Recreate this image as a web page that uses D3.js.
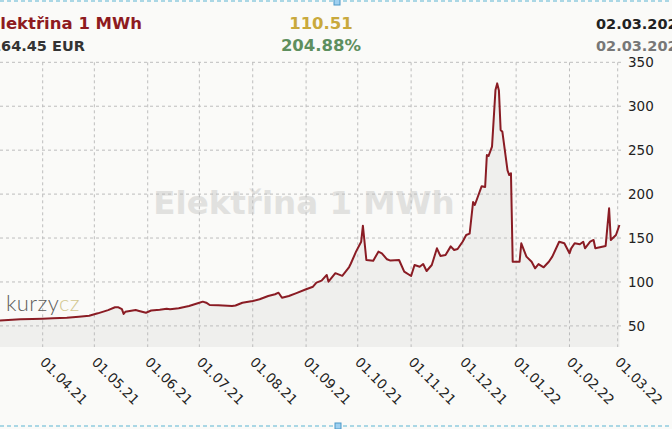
<!DOCTYPE html>
<html>
<head>
<meta charset="utf-8">
<script src="https://cdn.jsdelivr.net/npm/d3@7"></script>
<style>
  html, body { margin: 0; padding: 0; background: #fafaf8; }
  svg { display: block; font-family: 'DejaVu Sans', Verdana, sans-serif; }
</style>
</head>
<body>
<div id="chart"></div>
<script>
// Denni ceny (EUR / MWh)
const dates = [
    '2021-03-06', '2021-03-19', '2021-03-26', '2021-04-01', '2021-04-07', '2021-04-15', '2021-04-22', '2021-04-28',
    '2021-05-03', '2021-05-09', '2021-05-13', '2021-05-15', '2021-05-17', '2021-05-18', '2021-05-19', '2021-05-25',
    '2021-05-27', '2021-05-31', '2021-06-03', '2021-06-08', '2021-06-12', '2021-06-14', '2021-06-19', '2021-06-25',
    '2021-07-01', '2021-07-03', '2021-07-05', '2021-07-07', '2021-07-12', '2021-07-20', '2021-07-22', '2021-07-26',
    '2021-08-01', '2021-08-05', '2021-08-10', '2021-08-14', '2021-08-16', '2021-08-18', '2021-08-22', '2021-08-26',
    '2021-09-01', '2021-09-05', '2021-09-07', '2021-09-10', '2021-09-13', '2021-09-14', '2021-09-18', '2021-09-22',
    '2021-09-26', '2021-09-27', '2021-09-30', '2021-10-03', '2021-10-04', '2021-10-06', '2021-10-10', '2021-10-13',
    '2021-10-15', '2021-10-18', '2021-10-20', '2021-10-25', '2021-10-28', '2021-11-01', '2021-11-03', '2021-11-06',
    '2021-11-08', '2021-11-10', '2021-11-13', '2021-11-16', '2021-11-18', '2021-11-21', '2021-11-24', '2021-11-26',
    '2021-11-28', '2021-12-01', '2021-12-03', '2021-12-05', '2021-12-07', '2021-12-08', '2021-12-12', '2021-12-14',
    '2021-12-15', '2021-12-16', '2021-12-18', '2021-12-20', '2021-12-21', '2021-12-22', '2021-12-23', '2021-12-24',
    '2021-12-27', '2021-12-28', '2021-12-29', '2021-12-30', '2022-01-03', '2022-01-04', '2022-01-07', '2022-01-10',
    '2022-01-12', '2022-01-14', '2022-01-17', '2022-01-20', '2022-01-22', '2022-01-26', '2022-01-29', '2022-02-01',
    '2022-02-02', '2022-02-04', '2022-02-07', '2022-02-09', '2022-02-10', '2022-02-13', '2022-02-15', '2022-02-16',
    '2022-02-22', '2022-02-24', '2022-02-25', '2022-02-28', '2022-03-02'
];
const values = [
    56.0, 57.5, 57.9, 58.2, 58.6, 59.3, 60.5, 61.6,
    64.3, 68.0, 71.2, 71.2, 69.0, 63.6, 66.0, 68.0,
    67.0, 65.0, 67.5, 68.5, 69.6, 68.9, 70.0, 72.7,
    76.4, 77.6, 76.4, 73.8, 73.5, 72.7, 73.2, 76.4,
    78.3, 80.3, 84.0, 86.0, 87.8, 82.0, 84.0, 87.0,
    91.7, 94.6, 99.2, 101.5, 108.0, 100.3, 110.0, 107.0,
    117.0, 121.0, 134.5, 145.8, 164.0, 125.0, 124.2, 134.5,
    132.6, 125.8, 124.3, 125.0, 111.7, 106.8, 119.3, 117.4,
    120.4, 112.5, 119.3, 138.3, 129.6, 130.7, 140.5, 136.4,
    137.5, 146.0, 153.5, 155.0, 191.0, 187.6, 209.0, 208.0,
    244.5, 243.4, 254.0, 318.5, 326.0, 318.0, 273.0, 271.0,
    227.0, 221.7, 223.7, 123.0, 123.0, 144.0, 128.8, 123.0,
    115.6, 120.4, 116.7, 123.0, 128.8, 145.8, 144.0, 132.6,
    138.3, 144.0, 142.9, 145.8, 138.3, 145.8, 147.8, 138.3,
    141.0, 183.8, 147.8, 153.5, 164.8
];
const yTicks = [50, 100, 150, 200, 250, 300, 350];
const xTickStart = '2021-04-01';
const xTickEnd = '2022-03-01';

const titleText = 'Elektřina 1 MWh';
const priceText = '164.45 EUR';
const changeAbs = '110.51';
const changePct = '204.88%';
const dateText = '02.03.2022';

const width = 672;
const height = 429;
const plotTop = 62.3;
const plotBottom = 347;
const plotRight = 622;

const parse = d3.timeParse('%Y-%m-%d');
const series = dates.map((d, i) => ({ date: parse(d), value: values[i] }));

const svg = d3.select('#chart')
    .append('svg')
    .attr('width', width)
    .attr('height', height);

svg.append('rect')
    .attr('width', width)
    .attr('height', height)
    .attr('fill', '#fafaf8');

// Scales
const x = d3.scaleTime()
    .domain([parse(xTickStart), parse(xTickEnd)])
    .range([42.7, 617.7]);

const y = d3.scaleLinear()
    .domain([50, 350])
    .range([325.9, plotTop]);

// Watermark
svg.append('text')
    .attr('x', 304)
    .attr('y', 214)
    .attr('text-anchor', 'middle')
    .attr('font-size', 32.5)
    .attr('font-weight', 'bold')
    .attr('fill', '#e1e1df')
    .text(titleText);

// Area under the line
const area = d3.area()
    .x(d => x(d.date))
    .y0(plotBottom)
    .y1(d => y(d.value));

svg.append('path')
    .datum(series)
    .attr('d', area)
    .attr('fill', '#e6e6e4')
    .attr('fill-opacity', 0.55);

// Grid
const monthTicks = d3.timeMonth.range(parse(xTickStart), d3.timeDay.offset(parse(xTickEnd), 1));

svg.append('g')
    .selectAll('line')
    .data(monthTicks)
    .join('line')
    .attr('x1', d => x(d))
    .attr('x2', d => x(d))
    .attr('y1', plotTop)
    .attr('y2', plotBottom)
    .attr('stroke', '#bdbdbd')
    .attr('stroke-dasharray', '3,3');

svg.append('g')
    .selectAll('line')
    .data(yTicks)
    .join('line')
    .attr('x1', 0)
    .attr('x2', plotRight)
    .attr('y1', d => y(d))
    .attr('y2', d => y(d))
    .attr('stroke', '#bdbdbd')
    .attr('stroke-dasharray', '3,3');

// Y axis on the right
const yAxis = svg.append('g')
    .attr('transform', `translate(${plotRight},0)`)
    .call(d3.axisRight(y).tickValues(yTicks).tickSize(0).tickPadding(6));
yAxis.select('.domain').remove();
yAxis.selectAll('text')
    .attr('font-size', 13.5)
    .attr('font-family', "'DejaVu Sans', Verdana, sans-serif")
    .attr('fill', '#222');

// X labels, rotated
const fmt = d3.timeFormat('%d.%m.%y');
svg.append('g')
    .selectAll('text')
    .data(monthTicks)
    .join('text')
    .attr('transform', d => `translate(${x(d) - 3.4},363) rotate(45)`)
    .attr('font-size', 13.5)
    .attr('fill', '#222')
    .text(d => fmt(d));

// Line
const line = d3.line()
    .x(d => x(d.date))
    .y(d => y(d.value));

svg.append('path')
    .datum(series)
    .attr('d', line)
    .attr('fill', 'none')
    .attr('stroke', '#8a1c24')
    .attr('stroke-width', 2)
    .attr('stroke-linejoin', 'round');

// Logo
const logo = svg.append('text')
    .attr('x', 6)
    .attr('y', 311)
    .attr('font-family', 'Lato, sans-serif')
    .attr('font-weight', 300)
    .attr('font-size', 22)
    .attr('letter-spacing', 0.4);
logo.append('tspan').attr('fill', '#5e5e5c').text('kurzy');
logo.append('tspan').attr('fill', '#d3c890').text('cz');

// Header
const header = svg.append('g').attr('font-weight', 'bold');
header.append('text')
    .attr('x', -11).attr('y', 29)
    .attr('font-size', 16.5)
    .attr('fill', '#8e1b1f')
    .text(titleText);
header.append('text')
    .attr('x', -9).attr('y', 51)
    .attr('font-size', 14.5)
    .attr('fill', '#333')
    .text(priceText);
header.append('text')
    .attr('x', 321).attr('y', 29)
    .attr('text-anchor', 'middle')
    .attr('font-size', 16.5)
    .attr('fill', '#c9a93c')
    .text(changeAbs);
header.append('text')
    .attr('x', 321).attr('y', 51)
    .attr('text-anchor', 'middle')
    .attr('font-size', 16.5)
    .attr('fill', '#5e8f5e')
    .text(changePct);
header.append('text')
    .attr('x', 596).attr('y', 29)
    .attr('font-size', 14.5)
    .attr('fill', '#222')
    .text(dateText);
header.append('text')
    .attr('x', 596).attr('y', 51)
    .attr('font-size', 14.5)
    .attr('fill', '#777')
    .text(dateText);

// Editor frame lines
[1, 426].forEach(yy => {
    svg.append('line')
        .attr('x1', 0).attr('x2', width)
        .attr('y1', yy).attr('y2', yy)
        .attr('stroke', '#5ab4d2')
        .attr('stroke-dasharray', '4,3');
});
svg.append('rect')
    .attr('x', 334).attr('y', -1).attr('width', 6).attr('height', 6)
    .attr('fill', '#9fd0f0').attr('stroke', '#4a98c8');
svg.append('rect')
    .attr('x', 335).attr('y', 423).attr('width', 6).attr('height', 6)
    .attr('fill', '#9fd0f0').attr('stroke', '#4a98c8');
</script>
</body>
</html>
